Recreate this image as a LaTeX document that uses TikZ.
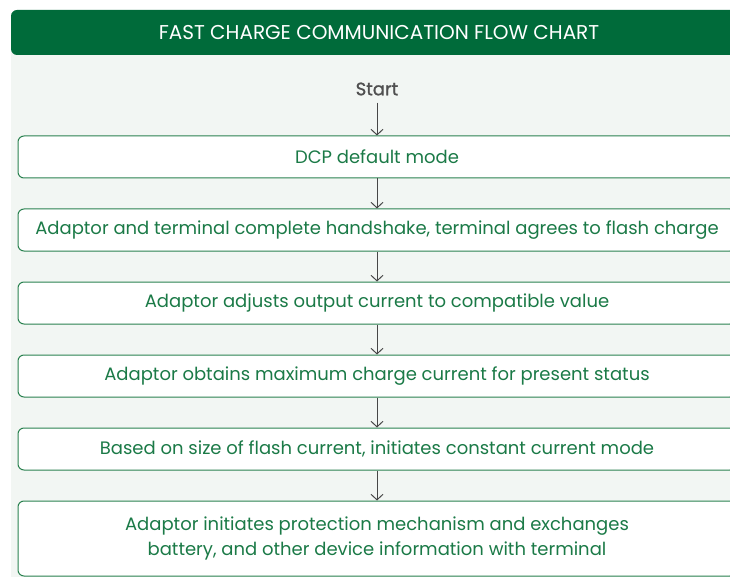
\documentclass[tikz,border=0pt]{standalone}
\usepackage{fontspec}
\setmainfont{Poppins}
\newfontfamily\startfont{Poppins}[FakeBold=1.2]
\usetikzlibrary{positioning,arrows.meta}
\definecolor{hdrgreen}{HTML}{006B3A}
\definecolor{bggreen}{HTML}{F2F6F3}
\definecolor{boxgreen}{HTML}{2B8250}
\definecolor{txtgreen}{HTML}{1B7A47}
\definecolor{arrgrey}{HTML}{474747}
\definecolor{startgrey}{HTML}{505050}
\tikzset{
  stepbox/.style={draw=boxgreen,line width=1pt,fill=white,rounded corners=6pt,
    minimum width=718pt,minimum height=42pt,text=txtgreen,align=center,inner sep=0pt},
  flow/.style={-{Straight Barb[length=5.5pt,width=12pt]},arrgrey,line width=1pt}
}
\begin{document}
\begin{tikzpicture}[x=1pt,y=-1pt,font=\fontsize{18}{25}\selectfont,node distance=30pt]
	\useasboundingbox (0,0) rectangle (730,577);
	\clip (0,0) rectangle (730,577);
	% panel and title bar
	\fill[bggreen] (11,50) rectangle (760,577);
	\fill[hdrgreen,rounded corners=6pt] (11,10) rectangle (760,55);
	\node[text=white,font=\fontsize{20}{22}\selectfont] (title) at (379,33) {FAST CHARGE COMMUNICATION FLOW CHART};
	% steps
	\node[text=startgrey,font=\fontsize{18}{20}\startfont,inner xsep=2pt,inner ysep=7pt] (start) at (377,89) {Start};
	\node[stepbox] (dcp) at (377,157) {DCP default mode};
	\node[stepbox,below=of dcp] (shake) {Adaptor and terminal complete handshake, terminal agrees to flash charge};
	\node[stepbox,below=of shake] (adjust) {Adaptor adjusts output current to compatible value};
	\node[stepbox,below=of adjust] (maxcur) {Adaptor obtains maximum charge current for present status};
	\node[stepbox,below=of maxcur] (cc) {Based on size of flash current, initiates constant current mode};
	\node[stepbox,below=of cc,minimum height=75pt] (protect) {Adaptor initiates protection mechanism and exchanges\\battery, and other device information with terminal};
	% arrows
	\draw[flow] (start) -- (dcp);
	\draw[flow] (dcp) -- (shake);
	\draw[flow] (shake) -- (adjust);
	\draw[flow] (adjust) -- (maxcur);
	\draw[flow] (maxcur) -- (cc);
	\draw[flow] (cc) -- (protect);
\end{tikzpicture}
\end{document}
